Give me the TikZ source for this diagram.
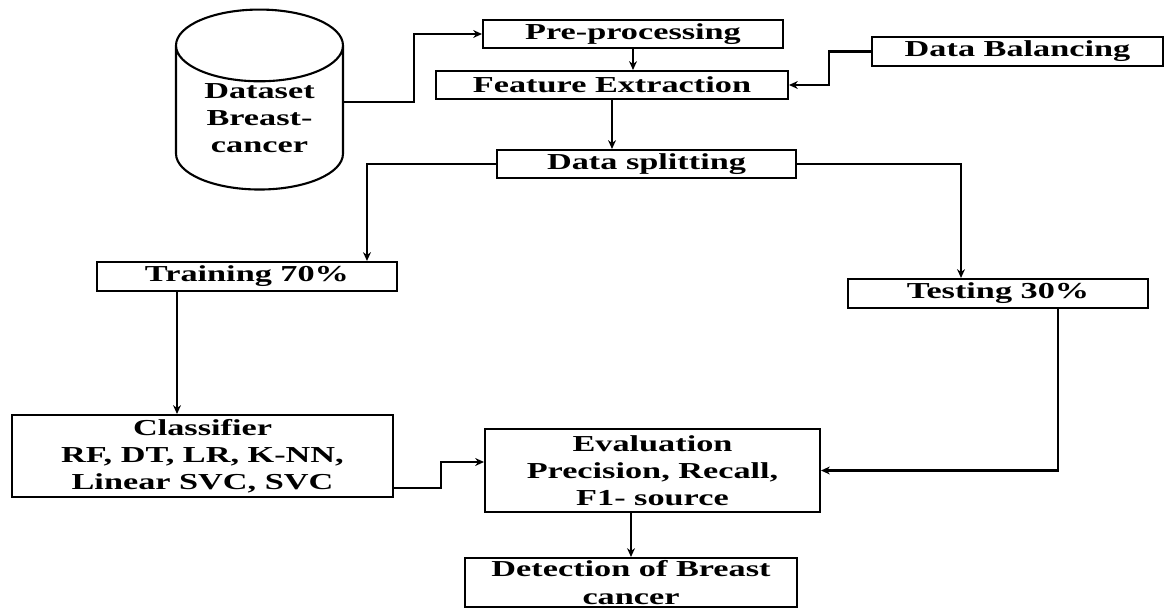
\documentclass[tikz,border=0pt]{standalone}
\usepackage{graphicx}
\usepackage{fontspec}
\setmainfont{Liberation Serif}
\usetikzlibrary{shapes.geometric,arrows.meta}
\def\wtxt#1{\scalebox{1.5}[1]{#1}}
\tikzset{box/.style={draw,line width=1.2pt,rectangle,inner sep=0pt,align=center,font=\fontsize{13}{15.5}\selectfont\bfseries},
  flow/.style={line width=1.2pt,-{Stealth[length=5pt,width=4.5pt]}}}

\begin{document}
\begin{tikzpicture}[x=0.02cm,y=-0.02cm]
\useasboundingbox (0,0) rectangle (1166,608);
       \node [cylinder,draw,line width=1.2pt,shape border rotate=90,aspect=0.65,minimum height=3.6cm,minimum width=3.34cm,inner sep=0pt,align=center,font=\fontsize{13}{15.5}\selectfont\bfseries] at (259.5,118) (ds) {\wtxt{Dataset}\\\wtxt{Breast-}\\\wtxt{cancer}};
       \node [box,minimum width=6cm,minimum height=0.56cm] at (633,34) (pre) {\wtxt{Pre-processing}};
       \node [box,minimum width=7.04cm,minimum height=0.56cm] at (612,85) (feat) {\wtxt{Feature Extraction}};
       \node [box,minimum width=5.82cm,minimum height=0.58cm] at (1017.5,51.5) (bal) {\wtxt{Data Balancing}};
       \node [box,minimum width=5.98cm,minimum height=0.56cm] at (646.5,164) (split) {\wtxt{Data splitting}};
       \node [box,minimum width=6cm,minimum height=0.58cm] at (247,276.5) (train) {\wtxt{Training 70\%}};
       \node [box,minimum width=6cm,minimum height=0.58cm] at (998,293.5) (test) {\wtxt{Testing 30\%}};
       \node [box,minimum width=7.62cm,minimum height=1.64cm] at (202.5,456) (clf) {\wtxt{Classifier}\\\wtxt{RF, DT, LR, K-NN,}\\\wtxt{Linear SVC, SVC}};
       \node [box,minimum width=6.7cm,minimum height=1.66cm] at (652.5,470.5) (eval) {\wtxt{Evaluation}\\\wtxt{Precision, Recall,}\\\wtxt{F1- source}};
       \node [box,minimum width=6.64cm,minimum height=0.98cm] at (631,582.5) (det) {\wtxt{Detection of Breast}\\\wtxt{cancer}};
%
%
\draw[flow] ([yshift=0.32cm]ds.east) -- ++(70,0) |- (pre.west);
\draw[flow] (pre.south) -- (pre.south |- feat.north);
\draw[flow] (bal.west) -- ++(-42,0) |- (feat.east);
\draw[flow] (feat.south) -- (feat.south |- split.north);
\draw[flow] (split.west) -| ([xshift=2.4cm]train.north);
\draw[flow] (split.east) -| ([xshift=-0.74cm]test.north);
\draw[flow] ([xshift=-1.4cm]train.south) -- ([xshift=-1.4cm]train.south |- clf.north);
\draw[flow] ([yshift=-0.64cm]clf.east) -- ++(47,0) |- ([yshift=0.17cm]eval.west);
\draw[flow] ([xshift=1.2cm]test.south) |- (eval.east);
\draw[flow] (det.north |- eval.south) -- (det.north);
\end{tikzpicture}
\end{document}
